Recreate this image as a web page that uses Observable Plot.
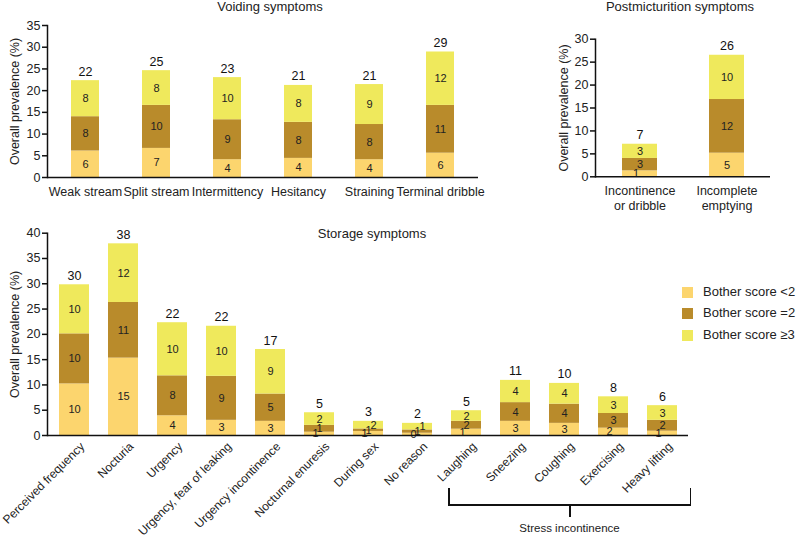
<!DOCTYPE html>
<html><head><meta charset="utf-8">
<script src="https://cdn.jsdelivr.net/npm/d3@7"></script>
<script src="https://cdn.jsdelivr.net/npm/@observablehq/plot@0.6"></script>
<style>
body{margin:0;background:#fff;font-family:"Liberation Sans",Arial,sans-serif;}
#wrap{position:relative;width:800px;height:538px;overflow:hidden;background:#fff}
.title{position:absolute;font-size:13px;color:#222;white-space:nowrap;transform:translateX(-50%);line-height:13px}
.leg{position:absolute;font-size:13px;color:#222;white-space:nowrap;line-height:14px}
.sw{position:absolute;width:11px;height:11px}
.br{position:absolute;background:#111}
</style></head><body><div id="wrap"></div>
<script>
const seriesNames = ["Bother score <2", "Bother score =2", "Bother score ≥3"];
const colors = ["#FCD56E", "#B98B2B", "#EFE95C"];

// Voiding symptoms
const voidingCats = ["Weak stream", "Split stream", "Intermittency", "Hesitancy", "Straining", "Terminal dribble"];
const voidingLow  = [6.1, 6.7, 4.1, 4.4, 4.1, 5.6];
const voidingMid  = [7.9, 9.9, 9.2, 8.3, 8.1, 11.0];
const voidingHigh = [8.3, 8.0, 9.7, 8.5, 9.2, 12.3];
const voidingLowLbl  = [6, 7, 4, 4, 4, 6];
const voidingMidLbl  = [8, 10, 9, 8, 8, 11];
const voidingHighLbl = [8, 8, 10, 8, 9, 12];
const voidingTotals  = [22, 25, 23, 21, 21, 29];

// Postmicturition symptoms
const postCats = ["Incontinence\nor dribble", "Incomplete\nemptying"];
const postLow  = [1.3, 5.15];
const postMid  = [2.7, 11.7];
const postHigh = [3.1, 9.65];
const postLowLbl  = [1, 5];
const postMidLbl  = [3, 12];
const postHighLbl = [3, 10];
const postTotals  = [7, 26];

// Storage symptoms
const storageCats = ["Perceived frequency", "Nocturia", "Urgency", "Urgency, fear of leaking", "Urgency incontinence",
  "Nocturnal enuresis", "During sex", "No reason", "Laughing", "Sneezing", "Coughing", "Exercising", "Heavy lifting"];
const storageLow  = [10.2, 15.3, 3.9, 3.0, 2.8, 0.65, 0.8, 0.45, 1.25, 2.8, 2.4, 1.45, 0.85];
const storageMid  = [9.9, 11.0, 7.9, 8.7, 5.4, 1.35, 0.5, 0.65, 1.55, 3.7, 3.8, 2.9, 2.15];
const storageHigh = [9.7, 11.6, 10.5, 9.9, 8.8, 2.5, 1.5, 1.3, 2.1, 4.4, 4.1, 3.3, 2.9];
const storageLowLbl  = [10, 15, 4, 3, 3, 1, 1, 0, 1, 3, 3, 2, 1];
const storageMidLbl  = [10, 11, 8, 9, 5, 1, 1, 1, 2, 4, 4, 3, 2];
const storageHighLbl = [10, 12, 10, 10, 9, 2, 2, 1, 2, 4, 4, 3, 3];
const storageTotals  = [30, 38, 22, 22, 17, 5, 3, 2, 5, 11, 10, 8, 6];

const stressGroup = ["Laughing", "Sneezing", "Coughing", "Exercising", "Heavy lifting"];
const stressLabel = "Stress incontinence";

const FONT = '"Liberation Sans", Arial, sans-serif';

function buildRows(cats, vals, lbls) {
  const rows = [];
  cats.forEach((c, i) => {
    let base = 0;
    const total = vals[0][i] + vals[1][i] + vals[2][i];
    for (let s = 0; s < 3; s++) {
      const v = vals[s][i];
      // nudge labels of very thin segments sideways so they stay legible
      let dx = 0;
      if (v < 1.6 && s === 0) dx = -4;
      if (total < 3.5 && s === 2) dx = 5;
      rows.push({cat: c, s, y1: base, y2: base + v, mid: base + v / 2, label: String(lbls[s][i]), fill: colors[s], dx});
      base += v;
    }
  });
  return rows;
}
function buildTotals(cats, vals, totals) {
  return cats.map((c, i) => ({cat: c, top: vals[0][i] + vals[1][i] + vals[2][i], label: String(totals[i])}));
}

function panel(o) {
  const rows = buildRows(o.cats, o.vals, o.lbls);
  const tots = buildTotals(o.cats, o.vals, o.totals);
  const textMarks = [-4, 0, 5].map(dx => Plot.text(rows.filter(r => r.dx === dx),
    {x: "cat", y: "mid", text: "label", fontSize: 11, fill: "#222", dx}));
  return Plot.plot({
    width: o.width, height: o.height,
    marginLeft: o.ml, marginRight: o.mr, marginTop: o.mt, marginBottom: o.mb,
    style: {fontFamily: FONT, fontSize: "12px", color: "#222", background: "transparent", overflow: "visible"},
    x: {domain: o.cats, paddingInner: o.pi, paddingOuter: o.po, axis: null},
    y: {domain: [0, o.ymax], axis: null},
    color: {type: "identity"},
    marks: [
      Plot.rectY(rows, {x: "cat", y1: "y1", y2: "y2", fill: "fill"}),
      ...textMarks,
      Plot.text(tots, {x: "cat", y: "top", text: "label", dy: -9, fontSize: 12.5, fill: "#111"}),
      Plot.axisY({ticks: d3.range(0, o.ymax + 1, 5), tickSize: 5, tickPadding: 2, fontSize: 12.5,
        stroke: "#111", strokeWidth: 1.5, label: "Overall prevalence (%)", labelAnchor: "center", labelOffset: o.lo, labelArrow: "none"}),
      o.rot
        ? Plot.axisX({tickRotate: -45, tickSize: 0, tickPadding: 6, fontSize: 12, label: null, dx: 8, dy: 3})
        : Plot.axisX({tickSize: 0, tickPadding: 8, fontSize: 12.5, label: null, lineHeight: 1.2}),
      Plot.frame({anchor: "left", stroke: "#111", strokeWidth: 1.5}),
      Plot.ruleY([0], {stroke: "#111", strokeWidth: 1.5})
    ]
  });
}

const wrap = document.getElementById("wrap");
function place(el, left, top) {
  el.style.position = "absolute"; el.style.left = left + "px"; el.style.top = top + "px";
  wrap.appendChild(el);
}
function div(cls, left, top, text, extra) {
  const d = document.createElement("div");
  d.className = cls; d.style.left = left + "px"; d.style.top = top + "px";
  if (text != null) d.textContent = text;
  if (extra) Object.assign(d.style, extra);
  wrap.appendChild(d);
  return d;
}

place(panel({cats: voidingCats, vals: [voidingLow, voidingMid, voidingHigh], lbls: [voidingLowLbl, voidingMidLbl, voidingHighLbl],
  totals: voidingTotals, width: 490, height: 215, ml: 47, mr: 12, mt: 25, mb: 38, pi: 0.6, po: 0.3, ymax: 35, lo: 37}), 0, 0);

place(panel({cats: postCats, vals: [postLow, postMid, postHigh], lbls: [postLowLbl, postMidLbl, postHighLbl],
  totals: postTotals, width: 250, height: 215, ml: 45, mr: 30, mt: 38.7, mb: 38.7, pi: 0.6, po: 0.3, ymax: 30, lo: 36}), 550, 0);

place(panel({cats: storageCats, vals: [storageLow, storageMid, storageHigh], lbls: [storageLowLbl, storageMidLbl, storageHighLbl],
  totals: storageTotals, width: 800, height: 323, ml: 47, mr: 112, mt: 17.7, mb: 103, pi: 0.39, po: 0.195, ymax: 40, lo: 37, rot: true}), 0, 215);

div("title", 270, 0, "Voiding symptoms");
div("title", 680, 0, "Postmicturition symptoms");
div("title", 372, 227, "Storage symptoms");

// legend
seriesNames.forEach((n, i) => {
  const cy = [292, 313, 335][i];
  div("sw", 682, cy - 5.5, null, {background: colors[i]});
  div("leg", 703, cy - 7, n);
});

// stress incontinence bracket
div("br", 448, 504, null, {width: "243px", height: "1.5px"});
div("br", 448, 488, null, {width: "1.5px", height: "17px"});
div("br", 689.5, 488, null, {width: "1.5px", height: "17px"});
div("br", 569, 505, null, {width: "1.5px", height: "12px"});
div("title", 569.5, 522, stressLabel, {fontSize: "11.5px"});
</script>
</body></html>
